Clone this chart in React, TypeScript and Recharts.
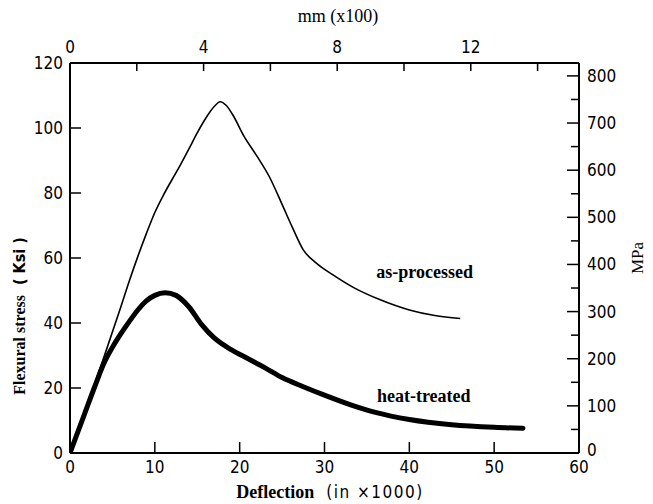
import React from "react";
import {
    Line,
    LineChart,
    ReferenceDot,
    XAxis,
    YAxis,
} from "recharts";

// deflection (in x1000) vs flexural stress (ksi)
const asProcessedX = [0, 2, 4, 6, 7, 8, 9, 10, 11, 12, 13, 14, 15, 16, 17, 17.7, 18.4, 19.2, 20.5, 22, 23.5, 25, 26.2, 27.5, 29, 31, 33.5, 36.5, 40, 43, 46];
const asProcessedY = [0, 14.5, 29.5, 45, 53, 60.5, 67.5, 74, 79.3, 84, 88.6, 93.5, 98.5, 103, 106.6, 108.1, 107, 104, 97.5, 91.5, 85, 76.5, 69.5, 62.5, 58.5, 54.8, 50.8, 47.2, 44, 42.3, 41.4];

const heatTreatedX = [0, 1.5, 3, 4, 5, 6, 7, 8, 9, 10, 11.2, 12.5, 14, 15.5, 17, 19, 21, 23, 25, 27.5, 30, 33, 36, 40, 45, 50, 53.4];
const heatTreatedY = [0, 10.5, 21, 27.6, 32.5, 36.7, 40.5, 44, 46.8, 48.5, 49.3, 48.5, 45, 39.6, 35.4, 31.8, 29, 26.2, 23.2, 20.4, 17.8, 14.9, 12.5, 10.3, 8.7, 7.9, 7.6];

const ksiTicks = [0, 20, 40, 60, 80, 100, 120];
const deflectionTicks = [0, 10, 20, 30, 40, 50, 60];
const mmTicks = [0, 2, 4, 6, 8, 10, 12, 14];
const mpaTicks = [0, 50, 100, 150, 200, 250, 300, 350, 400, 450, 500, 550, 600, 650, 700, 750, 800];

const MM_MAX = 60 * 0.0254 * 10; // 60 in x1000 in mm x100
const MPA_MAX = 120 * 6.894757;

const asProcessed = asProcessedX.map((x, i) => ({ x, y: asProcessedY[i] }));
const heatTreated = heatTreatedX.map((x, i) => ({ x, y: heatTreatedY[i] }));

const W = 653;
const H = 504;
const AX_L = 70;
const AX_R = 579;
const AX_T = 63;
const AX_B = 453;

const SANS = "'DejaVu Sans Condensed', 'DejaVu Sans', sans-serif";
const SERIF = "'Liberation Serif', 'DejaVu Serif', serif";
const TICK_FONT = 17;

const LeftTick = ({ y, payload }: any) => (
    <g>
        <line x1={AX_L} x2={AX_L + 11} y1={y} y2={y} stroke="#000" strokeWidth={1.5} />
        <text x={AX_L - 7} y={y} dy="0.35em" textAnchor="end" fontFamily={SANS} fontSize={TICK_FONT} fill="#000">
            {payload.value}
        </text>
    </g>
);

const BottomTick = ({ x, payload }: any) => (
    <g>
        <line x1={x} x2={x} y1={AX_B} y2={AX_B - 11} stroke="#000" strokeWidth={1.5} />
        <text x={x} y={AX_B + 14} dy="0.35em" textAnchor="middle" fontFamily={SANS} fontSize={TICK_FONT} fill="#000">
            {payload.value}
        </text>
    </g>
);

const TopTick = ({ x, payload }: any) => (
    <g>
        <line x1={x} x2={x} y1={AX_T} y2={AX_T + 8} stroke="#000" strokeWidth={1.5} />
        {payload.value % 4 === 0 && (
            <text x={x} y={AX_T - 16} dy="0.35em" textAnchor="middle" fontFamily={SANS} fontSize={TICK_FONT} fill="#000">
                {payload.value}
            </text>
        )}
    </g>
);

const RightTick = ({ y, payload }: any) => {
    const major = payload.value % 100 === 0;
    return (
        <g>
            <line x1={AX_R} x2={AX_R - (major ? 12 : 8)} y1={y} y2={y} stroke="#000" strokeWidth={1.5} />
            {major && (
                <text x={AX_R + 8} y={payload.value === 0 ? y - 3 : y} dy="0.35em" textAnchor="start" fontFamily={SANS} fontSize={TICK_FONT} fill="#000">
                    {payload.value}
                </text>
            )}
        </g>
    );
};

const title = (el: React.ReactElement) => ({ content: () => el });

const curveLabel = (value: string) => ({
    value,
    position: "center" as const,
    fontFamily: SERIF,
    fontWeight: "bold",
    fontSize: 18,
    fill: "#000",
});

export default function App() {
    return (
        <div style={{ position: "absolute", left: 0, top: 0, background: "#fff" }}>
            <LineChart width={W} height={H} margin={{ top: 0, right: 0, bottom: 0, left: 0 }}>
                <XAxis
                    xAxisId="bottom"
                    type="number"
                    dataKey="x"
                    domain={[0, 60]}
                    ticks={deflectionTicks}
                    interval={0}
                    allowDataOverflow
                    height={H - AX_B}
                    tickLine={false}
                    tick={<BottomTick />}
                    axisLine={{ stroke: "#000", strokeWidth: 2 }}
                    label={title(
                        <text x={330} y={498} textAnchor="middle" fill="#000">
                            <tspan fontFamily={SERIF} fontWeight="bold" fontSize={18}>Deflection</tspan>
                            <tspan fontFamily={SANS} fontSize={17} letterSpacing={1.5} dx={12}>(in ×1000)</tspan>
                        </text>
                    )}
                />
                <XAxis
                    xAxisId="top"
                    orientation="top"
                    type="number"
                    dataKey="x"
                    domain={[0, MM_MAX]}
                    ticks={mmTicks}
                    interval={0}
                    allowDataOverflow
                    height={AX_T}
                    tickLine={false}
                    tick={<TopTick />}
                    axisLine={{ stroke: "#000", strokeWidth: 2 }}
                    label={title(
                        <text x={338} y={22} textAnchor="middle" fill="#000" fontSize={18} fontFamily={SERIF}>
                            mm (x100)
                        </text>
                    )}
                />
                <YAxis
                    yAxisId="ksi"
                    type="number"
                    domain={[0, 120]}
                    ticks={ksiTicks}
                    interval={0}
                    allowDataOverflow
                    width={AX_L}
                    tickLine={false}
                    tick={<LeftTick />}
                    axisLine={{ stroke: "#000", strokeWidth: 2 }}
                    label={title(
                        <text transform="translate(25, 316) rotate(-90)" textAnchor="middle" fill="#000" fontSize={16}>
                            <tspan fontFamily={SERIF} fontWeight="bold">Flexural stress</tspan>
                            <tspan fontFamily={SANS} fontWeight="bold" dx={10}>( Ksi )</tspan>
                        </text>
                    )}
                />
                <YAxis
                    yAxisId="mpa"
                    orientation="right"
                    type="number"
                    domain={[0, MPA_MAX]}
                    ticks={mpaTicks}
                    interval={0}
                    allowDataOverflow
                    width={W - AX_R}
                    tickLine={false}
                    tick={<RightTick />}
                    axisLine={{ stroke: "#000", strokeWidth: 2 }}
                    label={title(
                        <text transform="translate(643, 258) rotate(-90)" textAnchor="middle" fill="#000" fontSize={17} fontFamily={SERIF}>
                            MPa
                        </text>
                    )}
                />
                <Line
                    xAxisId="bottom"
                    yAxisId="ksi"
                    data={asProcessed}
                    dataKey="y"
                    type="monotone"
                    stroke="#000"
                    strokeWidth={1.6}
                    dot={false}
                    activeDot={false}
                    isAnimationActive={false}
                />
                <Line
                    xAxisId="bottom"
                    yAxisId="ksi"
                    data={heatTreated}
                    dataKey="y"
                    type="monotone"
                    stroke="#000"
                    strokeWidth={5}
                    strokeLinecap="round"
                    dot={false}
                    activeDot={false}
                    isAnimationActive={false}
                />
                <ReferenceDot
                    xAxisId="bottom"
                    yAxisId="ksi"
                    x={41.8}
                    y={55.7}
                    r={0}
                    fill="none"
                    stroke="none"
                    label={curveLabel("as-processed")}
                />
                <ReferenceDot
                    xAxisId="bottom"
                    yAxisId="ksi"
                    x={41.7}
                    y={17.8}
                    r={0}
                    fill="none"
                    stroke="none"
                    label={curveLabel("heat-treated")}
                />
            </LineChart>
        </div>
    );
}
